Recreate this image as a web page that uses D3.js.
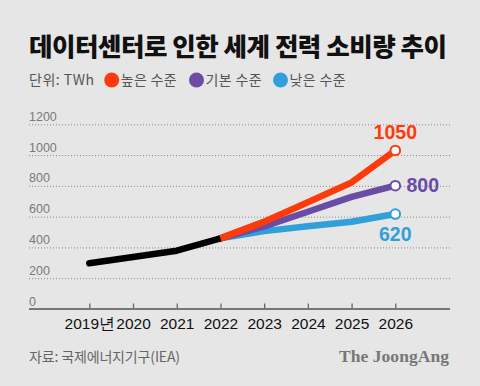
<!DOCTYPE html>
<html><head><meta charset="utf-8">
<script src="https://cdn.jsdelivr.net/npm/d3@7"></script>
<style>
html,body{margin:0;padding:0;background:#e6e6e6;}
svg{display:block;}
</style></head>
<body>
<script>
// ---- data ----
const years = [2019, 2020, 2021, 2022, 2023, 2024, 2025, 2026];
const yearLabels = ["2019년", "2020", "2021", "2022", "2023", "2024", "2025", "2026"];
const histYears = [2019, 2020, 2021, 2022];
const histValues = [297, 338, 379, 459];
const scenYears = [2022, 2023, 2024, 2025, 2026];
const highValues = [459, 567, 693, 822, 1030];
const baseValues = [459, 537, 632, 728, 801];
const lowValues = [459, 506, 537, 567, 617];
const seriesNames = ["높은 수준", "기본 수준", "낮은 수준"];
const seriesColors = ["#ff3a0a", "#6a4ca5", "#31a0da"];
const endLabels = ["1050", "800", "620"];
const yTicks = [0, 200, 400, 600, 800, 1000, 1200];

const W = 480, H = 386;
const svg = d3.select("body").append("svg").attr("width", W).attr("height", H);
svg.append("rect").attr("width", W).attr("height", H).attr("fill", "#e6e6e6");

const x = d3.scaleLinear().domain([2019, 2026]).range([89.3, 395.3]);
const y = d3.scaleLinear().domain([0, 1200]).range([309, 124.3]);
const left = 29, right = 450;

// fit a text to a width by adjusting letter-spacing
function fit(sel, width) {
  const n = sel.text().length;
  const w = sel.node().getComputedTextLength();
  const ls = (width - w) / Math.max(1, n - 1);
  sel.attr("letter-spacing", ls.toFixed(2));
  return sel;
}

// title
fit(svg.append("text").attr("x", 29).attr("y", 56)
  .attr("font-family", "'Noto Sans CJK KR', sans-serif").attr("font-weight", 900)
  .attr("font-size", 25.5).attr("fill", "#111")
  .text("데이터센터로 인한 세계 전력 소비량 추이"), 418);

// legend
const lg = svg.append("g").attr("font-family", "'Noto Sans CJK KR', sans-serif").attr("font-size", 14).attr("fill", "#555");
fit(lg.append("text").attr("x", 29).attr("y", 85).text("단위: TWh"), 65);
const legX = [111.7, 196.5, 280.5];
seriesNames.forEach((n, i) => {
  lg.append("circle").attr("cx", legX[i]).attr("cy", 80).attr("r", 7.5).attr("fill", seriesColors[i]);
  fit(lg.append("text").attr("x", legX[i] + 9).attr("y", 85).text(n), 56);
});

// grid
const grid = svg.append("g");
yTicks.filter(d => d > 0).forEach(t => {
  grid.append("line").attr("x1", left).attr("x2", right).attr("y1", y(t) + 0.5).attr("y2", y(t) + 0.5)
    .attr("stroke", "#8a8a8a").attr("stroke-width", 1).attr("stroke-dasharray", "1,2");
});
const yl = svg.append("g").attr("font-family", "'Liberation Sans', Arial, sans-serif").attr("font-size", 12.5).attr("fill", "#7a7a7a");
yTicks.forEach(t => {
  yl.append("text").attr("x", left).attr("y", y(t) - 3.5).text(t);
});

// x axis
const xAxis = d3.axisBottom(x).tickValues(years).tickSize(0).tickFormat((d, i) => yearLabels[i]);
const ax = svg.append("g").attr("transform", "translate(0,309)").call(xAxis);
ax.select(".domain").remove();
ax.selectAll("text").attr("dy", 0).attr("y", 19.5)
  .attr("font-family", "'Liberation Sans', Arial, sans-serif").attr("font-size", 15.5).attr("fill", "#111");
ax.selectAll(".tick").append("line").attr("y1", -5.5).attr("y2", 0).attr("stroke", "#666").attr("stroke-width", 1.3);
svg.append("line").attr("x1", left).attr("x2", right).attr("y1", 309).attr("y2", 309).attr("stroke", "#777").attr("stroke-width", 2);

// lines
const line = d3.line().x(d => x(d[0])).y(d => y(d[1]));
const scen = [highValues, baseValues, lowValues];
const order = [2, 1, 0];
order.forEach(i => {
  svg.append("path").datum(scenYears.map((yr, k) => [yr, scen[i][k]]))
    .attr("d", line).attr("fill", "none").attr("stroke", seriesColors[i])
    .attr("stroke-width", 6.5).attr("stroke-linejoin", "round").attr("stroke-linecap", "round");
});
svg.append("path").datum(histYears.map((yr, k) => [yr, histValues[k]]))
  .attr("d", line).attr("fill", "none").attr("stroke", "#000")
  .attr("stroke-width", 6.5).attr("stroke-linejoin", "round").attr("stroke-linecap", "round");
svg.append("path").datum([[2022, highValues[0]], [2023, highValues[1]]])
  .attr("d", line).attr("fill", "none").attr("stroke", seriesColors[0])
  .attr("stroke-width", 6.5).attr("stroke-linecap", "butt");

// end markers
order.forEach(i => {
  const v = scen[i][scen[i].length - 1];
  svg.append("circle").attr("cx", x(2026)).attr("cy", y(v)).attr("r", 4.8)
    .attr("fill", "#fff").attr("stroke", seriesColors[i]).attr("stroke-width", 2);
});

// end labels
const lf = "'Liberation Sans', Arial, sans-serif";
svg.append("text").attr("x", x(2026)).attr("y", 138.5).attr("text-anchor", "middle")
  .attr("font-family", lf).attr("font-weight", 700).attr("font-size", 19.5).attr("fill", seriesColors[0]).text(endLabels[0]);
svg.append("text").attr("x", 406.5).attr("y", 192).attr("text-anchor", "start")
  .attr("font-family", lf).attr("font-weight", 700).attr("font-size", 19.5).attr("fill", seriesColors[1]).text(endLabels[1]);
svg.append("text").attr("x", x(2026)).attr("y", 241).attr("text-anchor", "middle")
  .attr("font-family", lf).attr("font-weight", 700).attr("font-size", 19.5).attr("fill", seriesColors[2]).text(endLabels[2]);

// footer
fit(svg.append("text").attr("x", 29).attr("y", 362)
  .attr("font-family", "'Noto Sans CJK KR', sans-serif").attr("font-size", 14).attr("fill", "#666")
  .text("자료: 국제에너지기구(IEA)"), 151);
const jt = svg.append("text").attr("x", 339).attr("y", 361.7)
  .attr("font-family", "'Liberation Serif', 'DejaVu Serif', serif").attr("font-weight", 700)
  .attr("font-size", 17.5).attr("fill", "#777")
  .text("The JoongAng");
fit(jt, 110);
</script>
</body></html>
